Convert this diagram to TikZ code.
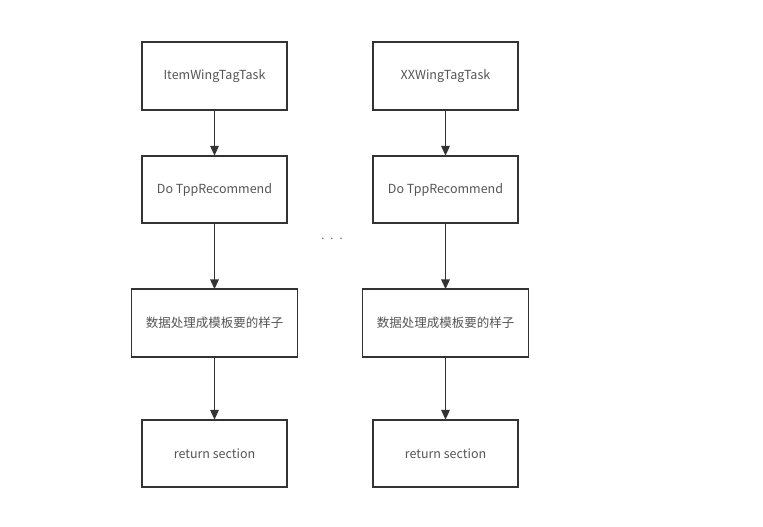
\documentclass[tikz,border=0pt]{standalone}
\usepackage{fontspec}
\setmainfont{Noto Sans CJK SC}
\usetikzlibrary{arrows.meta,positioning}

\definecolor{linegray}{HTML}{333333}
\definecolor{textgray}{HTML}{555555}

\begin{document}
\begin{tikzpicture}[x=1pt, y=1pt, >={Triangle[length=10pt, width=8.5pt]},
    line width=1.8pt, draw=linegray,
    box/.style={draw=linegray, line width=1.8pt, fill=white, minimum height=67.5pt, minimum width=145pt, inner sep=0pt, outer sep=0pt, align=center, font=\fontsize{12.5}{15}\selectfont, text=textgray},
    widebox/.style={box, minimum width=166pt},
    flow/.style={->, line width=1.8pt, draw=linegray}]
  \useasboundingbox (0,0) rectangle (763,-527);
  % left column
  \node[box] (task) at (214.5,-76) {ItemWingTagTask};
  \node[box, below=46pt of task] (rec) {Do TppRecommend};
  \node[widebox, below=66pt of rec] (proc) {数据处理成模板要的样子};
  \node[box, below=63pt of proc] (ret) {return section};
  \draw[flow] (task) -- (rec);
  \draw[flow] (rec) -- (proc);
  \draw[flow] (proc) -- (ret);
  % right column
  \node[box] (xtask) at (445.5,-76) {XXWingTagTask};
  \node[box, below=46pt of xtask] (xrec) {Do TppRecommend};
  \node[widebox, below=66pt of xrec] (xproc) {数据处理成模板要的样子};
  \node[box, below=63pt of xproc] (xret) {return section};
  \draw[flow] (xtask) -- (xrec);
  \draw[flow] (xrec) -- (xproc);
  \draw[flow] (xproc) -- (xret);
  % ellipsis between columns
  \node[text=textgray, font=\fontsize{11}{13}\selectfont] (dots) at (332,-239) {.\hspace{6pt}.\hspace{6pt}.};
\end{tikzpicture}
\end{document}
